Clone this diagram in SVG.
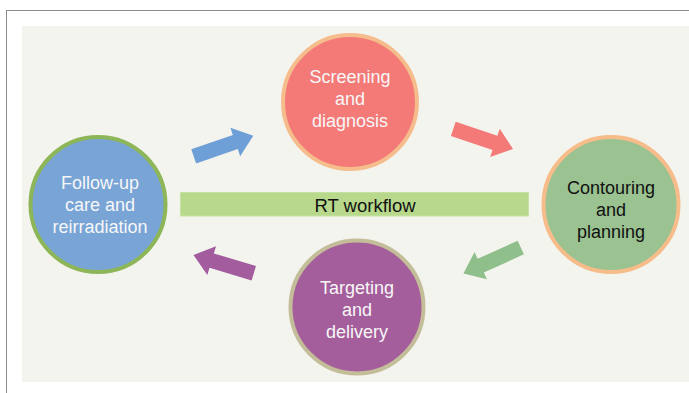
<svg xmlns="http://www.w3.org/2000/svg" width="689" height="393" viewBox="0 0 689 393">
<style>
.t{font-family:"Liberation Sans",Arial,sans-serif;font-size:18px;text-anchor:middle}
.w{fill:#F7F7F7}
.k{fill:#111111}
</style>
<defs>
<path id="arr" d="M0,-7.5 H44 V-15 L63,0 L44,15 V7.5 H0 Z"/>
</defs>
<rect x="0" y="0" width="689" height="393" fill="#FFFFFF"/>
<rect x="6.5" y="10.5" width="700" height="400" fill="none" stroke="#8A8A8A" stroke-width="1"/>
<rect x="22" y="26" width="667" height="356" fill="#F4F4EE"/>
<g id="connectors">
<use href="#arr" fill="#6E9FD6" transform="translate(193.7,156.3) rotate(-19)"/>
<use href="#arr" fill="#F47A77" transform="translate(453.3,128.8) rotate(18.7)"/>
<use href="#arr" fill="#8FBF8B" transform="translate(520.8,247.5) rotate(155.6)"/>
<use href="#arr" fill="#A35C9E" transform="translate(253.8,273.3) rotate(196.8)"/>
</g>
<g id="rt-workflow">
<rect x="180.5" y="192.5" width="348" height="23.5" fill="#B8D98C" stroke="#C6E2A2" stroke-width="1"/>
<text class="t k" x="365" y="211.5" style="font-size:18.5px">RT workflow</text>
</g>
<g id="screening">
<circle cx="350" cy="102" r="67" fill="#F47A77" stroke="#F6BD8C" stroke-width="4"/>
<text class="t w" x="350" y="83">Screening</text>
<text class="t w" x="350" y="105">and</text>
<text class="t w" x="350" y="127">diagnosis</text>
</g>
<g id="follow-up">
<circle cx="98" cy="204.5" r="67.5" fill="#78A4D6" stroke="#8DB658" stroke-width="4"/>
<text class="t w" x="100" y="189">Follow-up</text>
<text class="t w" x="100" y="211">care and</text>
<text class="t w" x="100" y="233">reirradiation</text>
</g>
<g id="contouring">
<circle cx="611" cy="204.5" r="67.5" fill="#9BC291" stroke="#F6BC8A" stroke-width="4"/>
<text class="t k" x="611" y="194">Contouring</text>
<text class="t k" x="611" y="216">and</text>
<text class="t k" x="611" y="238">planning</text>
</g>
<g id="targeting">
<circle cx="357" cy="307" r="66.5" fill="#A55E9C" stroke="#C4BD99" stroke-width="4"/>
<text class="t w" x="357" y="294">Targeting</text>
<text class="t w" x="357" y="316">and</text>
<text class="t w" x="357" y="338">delivery</text>
</g>
</svg>
